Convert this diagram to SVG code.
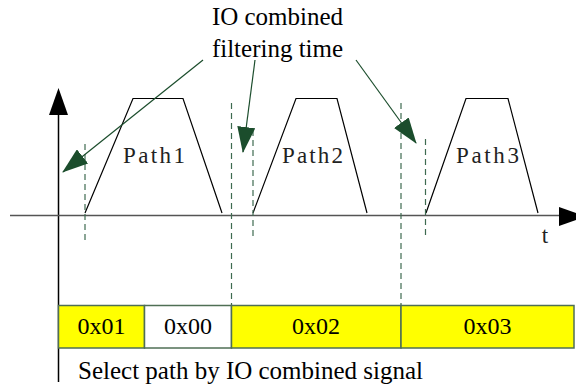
<svg xmlns="http://www.w3.org/2000/svg" width="576" height="387" viewBox="0 0 576 387">
<style>
.serif{font-family:'Liberation Serif','Times New Roman',serif;fill:#000}
.pl{font-family:'Liberation Serif','Times New Roman',serif;fill:#222;font-size:23px}
.trap{fill:none;stroke:#000;stroke-width:1.2}
.dash{stroke:#3e6a50;stroke-width:1.2;stroke-dasharray:6,4;fill:none}
.gline{stroke:#1b4d2c;stroke-width:1.2;fill:none}
.cell{stroke:#4f6f55;stroke-width:1.5}
</style>
<defs>
<marker id="ga" markerUnits="userSpaceOnUse" markerWidth="26" markerHeight="18" refX="25" refY="9" orient="auto" viewBox="0 0 26 18">
<path d="M0,0 L26,9 L0,18 Z" fill="#1b4d2c"/>
</marker>
</defs>
<rect width="576" height="387" fill="#fff"/>
<g id="axes">
<line x1="58.5" y1="110" x2="58.5" y2="382" stroke="#000" stroke-width="1.5"/>
<path d="M58.5,88 L68,115 L49,115 Z" fill="#000"/>
<line x1="10" y1="215.5" x2="562" y2="215.5" stroke="#555" stroke-width="1.5"/>
<path d="M586,216.5 L559,207 L559,226 Z" fill="#000"/>
<text class="pl" x="545" y="243" text-anchor="middle">t</text>
</g>
<g id="path1">
<polyline class="trap" points="85,213 133,98.5 183,98.5 222,213"/>
<text class="pl" x="123" y="163" textLength="62" lengthAdjust="spacing">Path1</text>
</g>
<g id="path2">
<polyline class="trap" points="253,213 296,98.5 337,98.5 367,213"/>
<text class="pl" x="282" y="163" textLength="61" lengthAdjust="spacing">Path2</text>
</g>
<g id="path3">
<polyline class="trap" points="426,213 466,98.5 508,98.5 538,213"/>
<text class="pl" x="456" y="163" textLength="63" lengthAdjust="spacing">Path3</text>
</g>
<g id="dashes">
<line class="dash" x1="85" y1="144" x2="85" y2="240"/>
<line class="dash" x1="231.5" y1="103" x2="231.5" y2="305"/>
<line class="dash" x1="253" y1="130" x2="253" y2="236"/>
<line class="dash" x1="401" y1="103" x2="401" y2="305"/>
<line class="dash" x1="425.5" y1="139" x2="425.5" y2="236"/>
</g>
<g id="label">
<text class="serif" x="277.5" y="25" font-size="25" text-anchor="middle">IO combined</text>
<text class="serif" x="277.5" y="57" font-size="25" text-anchor="middle">filtering time</text>
</g>
<g id="connectors">
<line class="gline" x1="203" y1="60" x2="63" y2="172" marker-end="url(#ga)"/>
<line class="gline" x1="255" y1="60" x2="243" y2="152" marker-end="url(#ga)"/>
<line class="gline" x1="356" y1="60" x2="416" y2="143" marker-end="url(#ga)"/>
</g>
<g id="table">
<rect class="cell" x="58.5" y="305.5" width="86" height="42.5" fill="#ffff00"/>
<rect class="cell" x="144.5" y="305.5" width="87" height="42.5" fill="#fff"/>
<rect class="cell" x="231.5" y="305.5" width="169.5" height="42.5" fill="#ffff00"/>
<rect class="cell" x="401" y="305.5" width="173" height="42.5" fill="#ffff00"/>
<text class="serif" x="101.5" y="334" font-size="24" text-anchor="middle">0x01</text>
<text class="serif" x="188" y="334" font-size="24" text-anchor="middle">0x00</text>
<text class="serif" x="316" y="334" font-size="24" text-anchor="middle">0x02</text>
<text class="serif" x="487.5" y="334" font-size="24" text-anchor="middle">0x03</text>
</g>
<g id="caption">
<text class="serif" x="78" y="379" font-size="25">Select path by IO combined signal</text>
</g>
</svg>
